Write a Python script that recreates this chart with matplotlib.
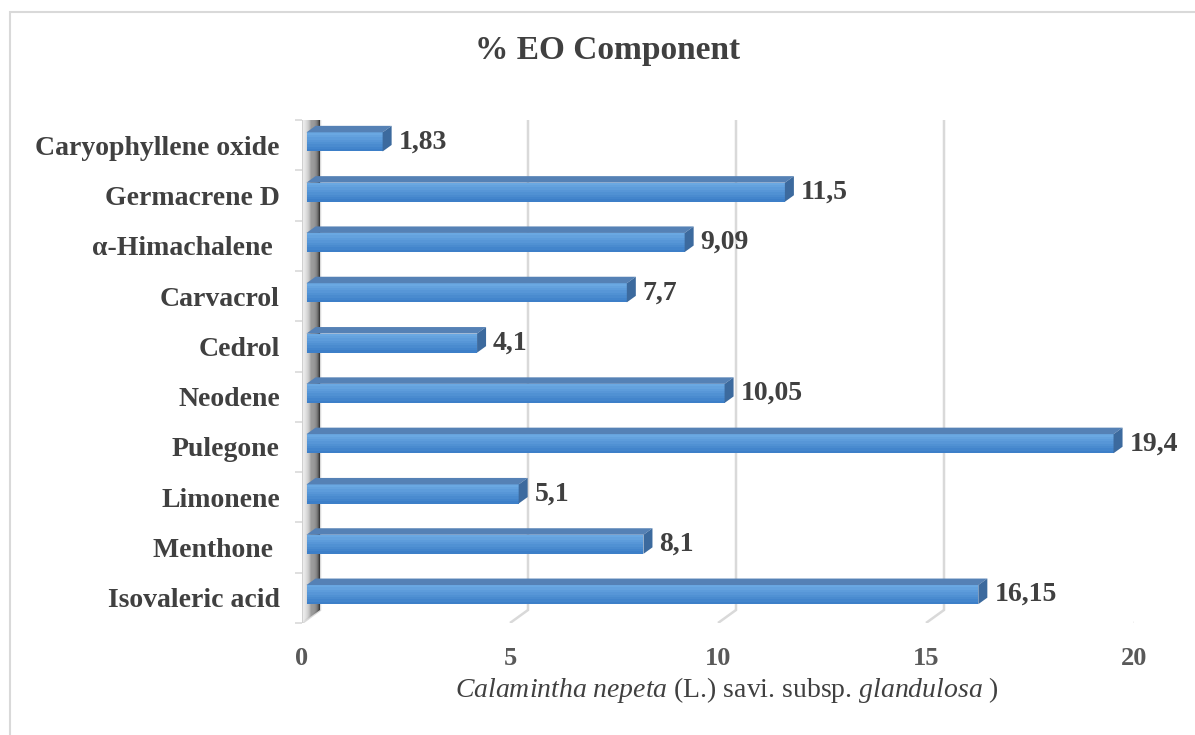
import numpy as np
import matplotlib.pyplot as plt
from matplotlib.patches import Polygon
from matplotlib.transforms import IdentityTransform, offset_copy

plt.rcParams['font.family'] = ['Liberation Serif', 'DejaVu Serif']
plt.rcParams['mathtext.fontset'] = 'custom'
plt.rcParams['mathtext.rm'] = 'Liberation Serif'
plt.rcParams['mathtext.it'] = 'Liberation Serif:italic'

# data (bottom to top)
components = ['Isovaleric acid', 'Menthone ', 'Limonene', 'Pulegone', 'Neodene',
              'Cedrol', 'Carvacrol', '\u03b1-Himachalene ', 'Germacrene D',
              'Caryophyllene oxide']
percent = [16.15, 8.1, 5.1, 19.4, 10.05, 4.1, 7.7, 9.09, 11.5, 1.83]
labels = ['16,15', '8,1', '5,1', '19,4', '10,05', '4,1', '7,7', '9,09', '11,5', '1,83']
xticks = [0, 5, 10, 15, 20]

W, H = 1195, 735
DX, DY = 18, 13          # depth of the 3d box in pixels
D0, D1 = 0.25, 0.75      # bar depth range
BAR_H = 0.38

fig = plt.figure(figsize=(W / 100, H / 100), dpi=100)
ax = fig.add_axes([302 / W, (H - 623) / H, 832 / W, 503 / H])
ax.set_xlim(0, 20)
ax.set_ylim(-0.5, len(components) - 0.5)
for s in ax.spines.values():
    s.set_visible(False)
ax.patch.set_visible(False)

ident = IdentityTransform()


def px(x, y, d=0.0):
    p = ax.transData.transform((x, y))
    return [p[0] + d * DX, p[1] + d * DY]


# outer border
fig.patches.append(plt.Rectangle((10 / W, -0.01), 1.2, (H - 12) / H + 0.01,
                                 transform=fig.transFigure, fill=False,
                                 ec='#d9d9d9', lw=1.5))

ybot, ytop = -0.5, len(components) - 0.5
# gridlines on back wall + feet
for t in xticks:
    ax.add_patch(Polygon([px(t, ybot, 0), px(t, ybot, 1), px(t, ytop + 0.1, 1)], closed=False,
                         fill=False, ec='#d9d9d9', lw=1.8, transform=ident))

# left side wall with gradient
n = 16
for i in range(n):
    a, b = i / n, (i + 1) / n
    g = 0.95 - 0.78 * (a ** 1.2)
    ax.add_patch(Polygon([px(0, ybot, a), px(0, ybot, b), px(0, ytop + 0.1, b), px(0, ytop + 0.1, a)],
                         closed=True, fc=(g, g, g), ec='none', transform=ident))
ax.add_patch(Polygon([px(0, ybot, 0), px(0, ytop, 0)], closed=False, fill=False,
                     ec='#d0d0d0', lw=1.5, transform=ident))

# bars
front = offset_copy(ax.transData, fig, x=D0 * DX, y=D0 * DY, units='dots')
bars = ax.barh(range(len(components)), percent, height=BAR_H, color='#5b9bd5',
               transform=front, zorder=3)
for yi, v in enumerate(percent):
    yt, yb = yi + BAR_H / 2, yi - BAR_H / 2
    # gradient on front face
    m = 8
    for k in range(m):
        y0 = yb + BAR_H * k / m
        y1 = yb + BAR_H * (k + 1) / m
        f = k / (m - 1)
        c = np.array([0x3d, 0x7f, 0xc8]) * (1 - f) + np.array([0x6a, 0xa8, 0xe2]) * f
        ax.add_patch(Polygon([px(0, y0, D0), px(v, y0, D0), px(v, y1, D0), px(0, y1, D0)],
                             fc=c / 255, ec='none', transform=ident, zorder=4))
    ax.add_patch(Polygon([px(0, yt, D0), px(v, yt, D0), px(v, yt, D1), px(0, yt, D1)],
                         fc='#5581b5', ec='none', transform=ident, zorder=4))
    ax.add_patch(Polygon([px(v, yb, D0), px(v, yb, D1), px(v, yt, D1), px(v, yt, D0)],
                         fc='#3c6a9e', ec='none', transform=ident, zorder=4))
    ax.text(v, yi, labels[yi], fontsize=20, fontweight='bold', color='#404040',
            va='center', ha='left', zorder=5,
            transform=offset_copy(ax.transData, fig, x=D1 * DX + 7, y=D0 * DY, units='dots'))

# axes ticks
ax.set_xticks(xticks)
ax.set_xticklabels([str(t) for t in xticks], fontsize=19, fontweight='bold', color='#595959')
ax.tick_params(axis='x', length=0, pad=17)
ax.set_yticks(range(len(components)))
ax.set_yticklabels(components, fontsize=20, fontweight='bold', color='#404040')
ax.tick_params(axis='y', which='major', length=0, pad=16)
ax.set_yticks(np.arange(-0.5, len(components), 1), minor=True)
ax.tick_params(axis='y', which='minor', length=5, width=1.2, color='#d9d9d9', direction='out')

fig.text(608 / W, 1 - 51 / H, '% EO Component', ha='center', va='center',
         fontsize=24, fontweight='bold', color='#404040')
fig.text(727 / W, 1 - 690 / H,
         r'$\mathit{Calamintha\ nepeta}$ (L.) savi. subsp. $\mathit{glandulosa}$ )',
         ha='center', va='center', fontsize=20, color='#404040')

fig.savefig('out.png', dpi=100)
